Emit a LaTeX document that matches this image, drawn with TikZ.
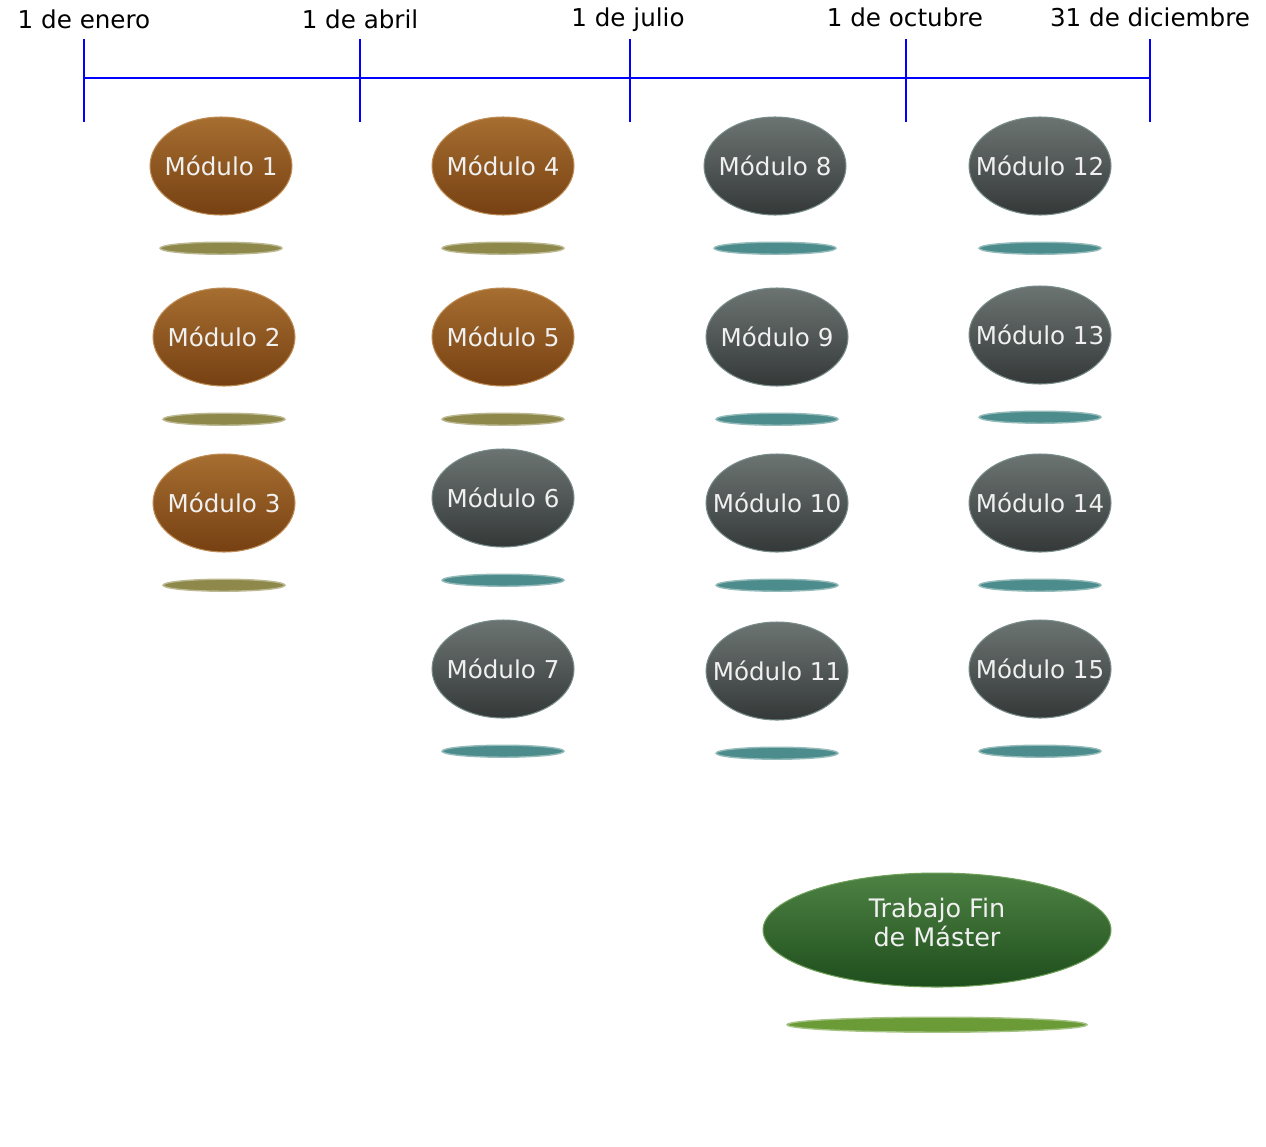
\documentclass[tikz,border=0pt]{standalone}
\usepackage{fontspec}
\setmainfont{DejaVu Sans}
\usetikzlibrary{shapes.geometric, positioning}

\definecolor{azuleje}{RGB}{0,0,255}
\definecolor{marronalto}{RGB}{166,110,48}
\definecolor{marronbajo}{RGB}{118,64,18}
\definecolor{marronborde}{RGB}{190,140,85}
\definecolor{grisalto}{RGB}{108,116,114}
\definecolor{grisbajo}{RGB}{52,57,56}
\definecolor{grisborde}{RGB}{120,140,138}
\definecolor{verdealto}{RGB}{78,130,68}
\definecolor{verdebajo}{RGB}{30,78,28}
\definecolor{verdeborde}{RGB}{110,160,90}
\definecolor{oliva}{RGB}{142,136,74}
\definecolor{verdeazul}{RGB}{76,140,140}
\definecolor{verdehierba}{RGB}{107,155,54}

\begin{document}
\begin{tikzpicture}[
        x=0.02cm, y=-0.02cm,
        fecha/.style={
            font=\fontsize{14}{16}\selectfont,
            anchor=base,
            inner sep=0pt
        },
        eje/.style={draw=azuleje, line width=1.7pt},
        marca/.style={draw=azuleje, line width=0.6pt},
        modulo/.style={
            ellipse,
            minimum width=2.84cm,
            minimum height=1.96cm,
            inner xsep=-5mm,
            inner ysep=0pt,
            line width=0.6pt,
            text=white!94!black,
            font=\fontsize{14}{16}\selectfont
        },
        marron/.style={modulo, top color=marronalto, bottom color=marronbajo, draw=marronborde},
        gris/.style={modulo, top color=grisalto, bottom color=grisbajo, draw=grisborde},
        trabajo/.style={
            modulo,
            minimum width=6.96cm,
            minimum height=2.28cm,
            font=\fontsize{14.5}{16.4}\selectfont,
            top color=verdealto,
            bottom color=verdebajo,
            draw=verdeborde
        },
        sombra/.style={
            ellipse,
            minimum width=2.44cm,
            minimum height=0.24cm,
            inner sep=0pt,
            line width=0.8pt,
            fill=#1,
            draw=#1!60!white
        }
    ]
        \useasboundingbox (0,0) rectangle (1266,1146);

        % linea de tiempo
        \foreach \x/\n in {84/1, 360/2, 630/3, 906/4, 1150/5} {
            \coordinate (arriba\n) at (\x,39);
            \coordinate (abajo\n) at (\x,122);
            \draw[marca] (arriba\n) -- (abajo\n);
        }
        \coordinate (inicio) at (84,78);
        \coordinate (fin) at (1150,78);
        \draw[eje] (inicio) -- (fin);

        \node[fecha] (enero) at (84,29) {1 de enero};
        \node[fecha] (abril) at (360,29) {1 de abril};
        \node[fecha] (julio) at (628,26) {1 de julio};
        \node[fecha] (octubre) at (905,26) {1 de octubre};
        \node[fecha] (diciembre) at (1150,26) {31 de diciembre};

        % primer trimestre
        \node[marron] (m1) at (221,166) {Módulo 1};
        \node[sombra=oliva, below=0.52cm of m1] (s1) {};
        \node[marron] (m2) at (224,337) {Módulo 2};
        \node[sombra=oliva, below=0.52cm of m2] (s2) {};
        \node[marron] (m3) at (224,503) {Módulo 3};
        \node[sombra=oliva, below=0.52cm of m3] (s3) {};

        % segundo trimestre
        \node[marron] (m4) at (503,166) {Módulo 4};
        \node[sombra=oliva, below=0.52cm of m4] (s4) {};
        \node[marron] (m5) at (503,337) {Módulo 5};
        \node[sombra=oliva, below=0.52cm of m5] (s5) {};
        \node[gris] (m6) at (503,498) {Módulo 6};
        \node[sombra=verdeazul, below=0.52cm of m6] (s6) {};
        \node[gris] (m7) at (503,669) {Módulo 7};
        \node[sombra=verdeazul, below=0.52cm of m7] (s7) {};

        % tercer trimestre
        \node[gris] (m8) at (775,166) {Módulo 8};
        \node[sombra=verdeazul, below=0.52cm of m8] (s8) {};
        \node[gris] (m9) at (777,337) {Módulo 9};
        \node[sombra=verdeazul, below=0.52cm of m9] (s9) {};
        \node[gris] (m10) at (777,503) {Módulo 10};
        \node[sombra=verdeazul, below=0.52cm of m10] (s10) {};
        \node[gris] (m11) at (777,671) {Módulo 11};
        \node[sombra=verdeazul, below=0.52cm of m11] (s11) {};

        % cuarto trimestre
        \node[gris] (m12) at (1040,166) {Módulo 12};
        \node[sombra=verdeazul, below=0.52cm of m12] (s12) {};
        \node[gris] (m13) at (1040,335) {Módulo 13};
        \node[sombra=verdeazul, below=0.52cm of m13] (s13) {};
        \node[gris] (m14) at (1040,503) {Módulo 14};
        \node[sombra=verdeazul, below=0.52cm of m14] (s14) {};
        \node[gris] (m15) at (1040,669) {Módulo 15};
        \node[sombra=verdeazul, below=0.52cm of m15] (s15) {};

        % trabajo final
        \node[trabajo] (tfm) at (937,930)
            {\raisebox{2pt}[\height][\depth]{\begin{tabular}{@{}c@{}}Trabajo Fin\\de Máster\end{tabular}}};
        \node[sombra=verdehierba, minimum width=6.0cm, minimum height=0.3cm,
            below=0.58cm of tfm] (stfm) {};
    \end{tikzpicture}
\end{document}
